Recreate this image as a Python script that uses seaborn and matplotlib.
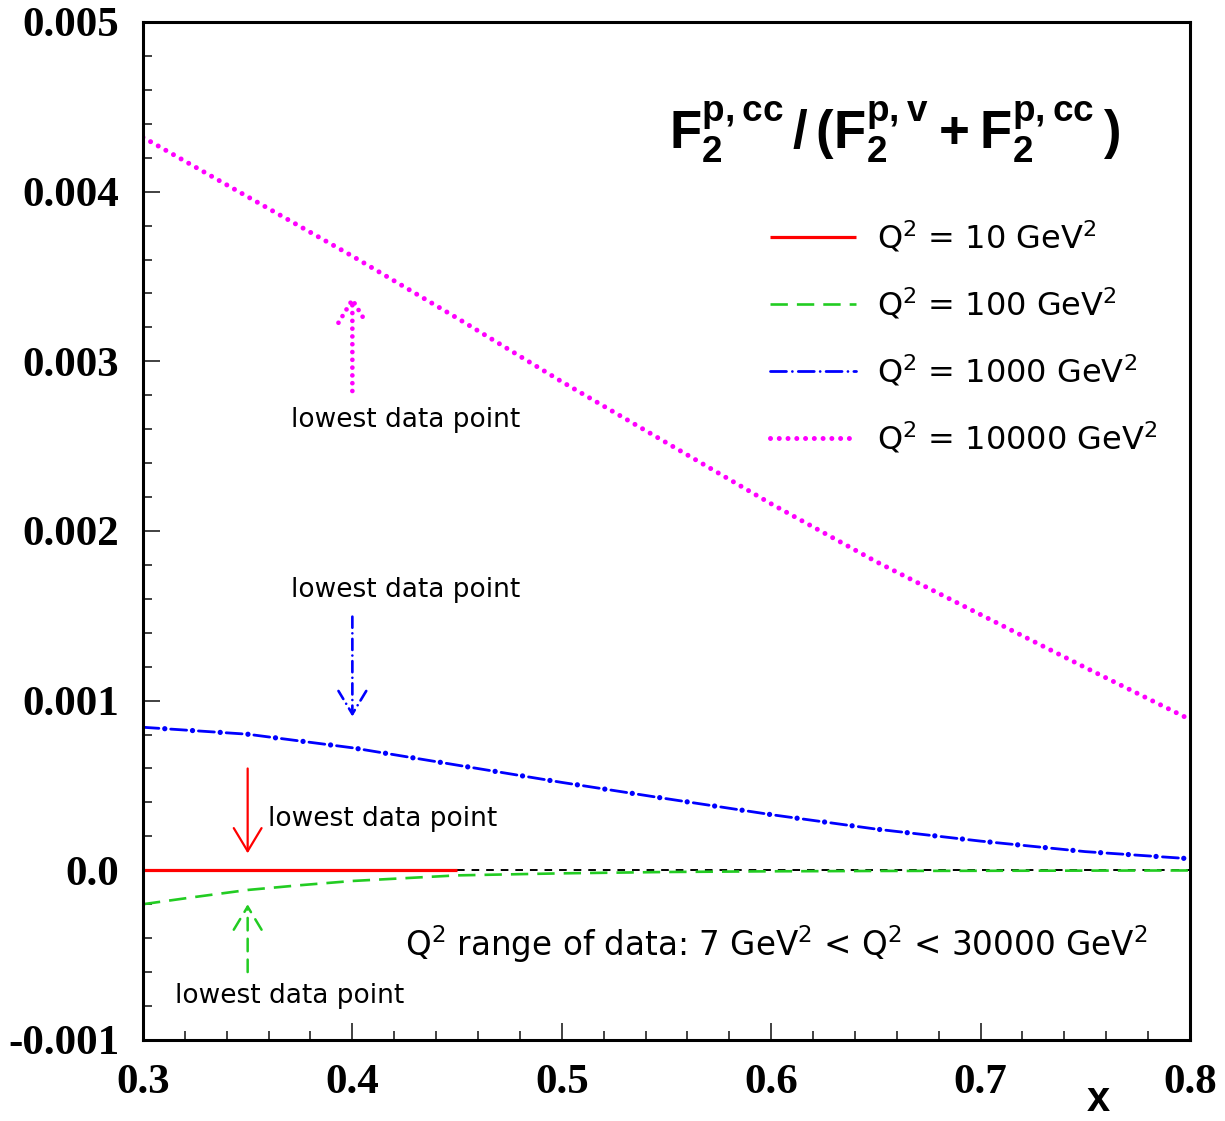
import numpy as np
import pandas as pd
import matplotlib
matplotlib.use("Agg")
import matplotlib.pyplot as plt
import seaborn as sns
from matplotlib.ticker import MultipleLocator

# ---------------- data ----------------
x_q10 = [0.30, 0.35, 0.40, 0.45]
q10 = [0.0, 0.0, 0.0, 0.0]

x_q100 = [0.30, 0.325, 0.35, 0.375, 0.40, 0.45, 0.50, 0.55, 0.60, 0.65, 0.70, 0.75, 0.80]
q100 = [-0.200e-3, -0.157e-3, -0.116e-3, -0.088e-3, -0.063e-3, -0.030e-3, -0.018e-3,
        -0.010e-3, -0.006e-3, -0.004e-3, -0.003e-3, -0.002e-3, -0.001e-3]

x_grid = [0.30, 0.35, 0.40, 0.45, 0.50, 0.55, 0.60, 0.65, 0.70, 0.75, 0.80]
q1000 = [0.843e-3, 0.802e-3, 0.722e-3, 0.620e-3, 0.518e-3, 0.422e-3, 0.328e-3,
         0.243e-3, 0.172e-3, 0.110e-3, 0.068e-3]
q10000 = [4.32e-3, 3.97e-3, 3.62e-3, 3.255e-3, 2.88e-3, 2.52e-3, 2.16e-3,
          1.82e-3, 1.507e-3, 1.195e-3, 0.889e-3]

zero_x = [0.45, 0.80]
zero_y = [0.0, 0.0]

legend_labels = [r"Q$^2$ = 10 GeV$^2$", r"Q$^2$ = 100 GeV$^2$",
                 r"Q$^2$ = 1000 GeV$^2$", r"Q$^2$ = 10000 GeV$^2$"]

# arrows: red, green, blue, magenta
arrow_x = [0.35, 0.35, 0.40, 0.40]
arrow_from = [0.60e-3, -0.60e-3, 1.495e-3, 2.825e-3]
arrow_to = [0.10e-3, -0.20e-3, 0.906e-3, 3.39e-3]

# "lowest data point" labels: (x, y, ha)
note_x = [0.3597, 0.370, 0.4253, 0.4253]
note_y = [0.30e-3, -0.74e-3, 1.654e-3, 2.655e-3]
note_ha = ["left", "center", "center", "center"]
note_text = "lowest data point"

x_ticks = [0.3, 0.4, 0.5, 0.6, 0.7, 0.8]
x_tick_labels = ["0.3", "0.4", "0.5", "0.6", "0.7", "0.8"]
y_ticks = [-0.001, 0.0, 0.001, 0.002, 0.003, 0.004, 0.005]
y_tick_labels = ["-0.001", "0.0", "0.001", "0.002", "0.003", "0.004", "0.005"]

# ---------------- style ----------------
sns.set_style("white")
plt.rcParams["font.family"] = ["DejaVu Sans"]
plt.rcParams["text.color"] = "black"
plt.rcParams["axes.labelcolor"] = "black"
plt.rcParams["xtick.labelcolor"] = "black"
plt.rcParams["ytick.labelcolor"] = "black"
plt.rcParams["mathtext.fontset"] = "custom"
plt.rcParams["mathtext.bf"] = "Liberation Sans:bold"
plt.rcParams["mathtext.rm"] = "DejaVu Sans"
plt.rcParams["mathtext.default"] = "regular"
plt.rcParams["lines.scale_dashes"] = False

RED = "#ff0000"
GREEN = "#22cc22"
BLUE = "#0000ff"
MAGENTA = "#ff00ff"

fig = plt.figure(figsize=(12.25, 11.21), dpi=100)
ax = fig.add_axes([0.1167, 0.0723, 0.8547, 0.9081])


def draw(x, y, color, lw):
    sns.lineplot(x=x, y=y, ax=ax, color=color, lw=lw, estimator=None, sort=False)
    return ax.lines[-1]


ln_zero = draw(zero_x, zero_y, "black", 1.4)
ln_zero.set_linestyle((0, (5.5, 5.0)))

ln_red = draw(x_q10, q10, RED, 2.3)
ln_red.set_solid_capstyle("butt")

ln_green = draw(x_q100, q100, GREEN, 1.9)
ln_green.set_linestyle((0, (12.5, 6.5)))

# dash-dot curve: a dash-dot line plus larger dots on top of it
ln_blue_d = draw(x_grid, q1000, BLUE, 2.0)
ln_blue_d.set_linestyle((0, (11.5, 4.25, 0.01, 4.25)))
ln_blue_d.set_dash_capstyle("round")
ln_blue_p = draw(x_grid, q1000, BLUE, 3.8)
ln_blue_p.set_linestyle((4.25, (0.01, 19.99)))
ln_blue_p.set_dash_capstyle("round")

ln_mag = draw(x_grid, q10000, MAGENTA, 3.6)
ln_mag.set_linestyle((0, (0.01, 6.3)))
ln_mag.set_dash_capstyle("round")

# arrows
arrow_styles = [
    dict(color=RED, lw=1.6, linestyle="solid"),
    dict(color=GREEN, lw=1.8, linestyle=(0, (9, 6))),
    dict(color=BLUE, lw=1.9, linestyle=(0, (8, 4, 0.01, 4)), capstyle="round"),
    dict(color=MAGENTA, lw=3.4, linestyle=(0, (0.01, 5.6)), capstyle="round"),
]
for xa, y0, y1, st in zip(arrow_x, arrow_from, arrow_to, arrow_styles):
    props = dict(arrowstyle="->,head_length=0.83,head_width=0.5",
                 shrinkA=0, shrinkB=0, mutation_scale=20)
    props.update(st)
    ax.annotate("", xy=(xa, y1), xytext=(xa, y0), arrowprops=props)

for xt, yt, ha in zip(note_x, note_y, note_ha):
    ax.text(xt, yt, note_text, ha=ha, va="center", fontsize=19, color="black")

# title formula
ax.text(0.659, 4.35e-3,
        r"$\mathbf{F_2^{p,cc}\,/\,(F_2^{p,v}+F_2^{p,cc}\,)}$",
        ha="center", va="center", fontsize=38, color="black")

# range text
ax.text(0.4251, -0.436e-3,
        r"Q$^2$ range of data: 7 GeV$^2$ < Q$^2$ < 30000 GeV$^2$",
        ha="left", va="center", fontsize=23.5, color="black")

# legend
handles = [ln_red, ln_green, ln_blue_d, ln_mag]
leg = ax.legend(handles, legend_labels,
                loc="upper left", bbox_to_anchor=(0.599, 0.806), frameon=False,
                fontsize=23, handlelength=2.7, handletextpad=0.66, labelspacing=0.98,
                borderpad=0, borderaxespad=0)
for t in leg.get_texts():
    t.set_color("black")

# axes
ax.set_xlim(0.3, 0.8)
ax.set_ylim(-0.001, 0.005)
ax.set_xticks(x_ticks)
ax.set_xticklabels(x_tick_labels, fontfamily="Liberation Serif", fontweight="bold",
                   fontsize=31, color="black")
ax.set_yticks(y_ticks)
ax.set_yticklabels(y_tick_labels, fontfamily="Liberation Serif", fontweight="bold",
                   fontsize=31, color="black")
ax.xaxis.set_minor_locator(MultipleLocator(0.02))
ax.yaxis.set_minor_locator(MultipleLocator(0.0002))
ax.tick_params(which="major", direction="in", length=12, width=1.3, color="#333333",
               left=True, bottom=True, right=False, top=False)
ax.tick_params(which="minor", direction="in", length=6.3, width=1.3, color="#333333",
               left=True, bottom=True, right=False, top=False)
ax.tick_params(axis="y", which="major", pad=17)
ax.tick_params(axis="x", which="major", pad=17)

ax.set_xlabel("x", fontfamily="Liberation Sans", fontweight="bold", fontsize=30, color="black")
ax.xaxis.set_label_coords(0.912, -0.059)
ax.xaxis.label.set_va("center")
ax.set_ylabel("")

for sp in ax.spines.values():
    sp.set_visible(True)
    sp.set_linewidth(2.2)
    sp.set_color("black")

fig.savefig("out.png", dpi=100)
